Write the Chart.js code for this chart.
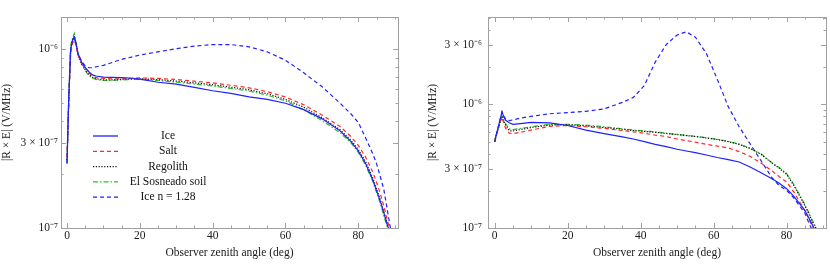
<!DOCTYPE html>
<html>
<head>
<meta charset="utf-8">
<script src="https://cdn.jsdelivr.net/npm/chart.js@4/dist/chart.umd.min.js"></script>
<style>
  html, body { margin:0; padding:0; background:#fff; }
  #wrap { position:relative; width:830px; height:273px; }
  .cv { position:absolute; top:0; }
</style>
</head>
<body>
<div id="wrap">
  <canvas id="left" class="cv" width="415" height="273" style="left:0px"></canvas>
  <canvas id="right" class="cv" width="415" height="273" style="left:415px"></canvas>
</div>
<script>
// ---------------- DATA ----------------
const seriesNames = ["Ice", "Salt", "Regolith", "El Sosneado soil", "Ice n = 1.28"];
const xTickValues = [0, 20, 40, 60, 80];
const xTitle = "Observer zenith angle (deg)";
const yTitle = "|R × E| (V/MHz)";

// Left panel
const leftAngles = [0,0.5,1,1.5,2,2.5,3,4,5,6,7,8,10,12,15,18,20,25,30,35,40,45,50,55,60,65,70,75,78,80,82,84,85,86,87,88,89,90];
const leftIce      = [2.3e-7,5.5e-7,1.0e-6,1.12e-6,1.17e-6,1.07e-6,9.5e-7,8.5e-7,7.9e-7,7.5e-7,7.2e-7,7.1e-7,7.0e-7,6.98e-7,6.95e-7,6.9e-7,6.82e-7,6.55e-7,6.4e-7,6.13e-7,5.87e-7,5.67e-7,5.42e-7,5.25e-7,5.0e-7,4.6e-7,4.1e-7,3.5e-7,3.05e-7,2.7e-7,2.3e-7,1.85e-7,1.62e-7,1.42e-7,1.22e-7,1.04e-7,8.8e-8,7.5e-8];
const leftSalt     = [2.5e-7,5.2e-7,9.5e-7,1.08e-6,1.13e-6,1.05e-6,9.3e-7,8.4e-7,7.9e-7,7.4e-7,7.1e-7,6.95e-7,6.88e-7,6.85e-7,6.85e-7,6.9e-7,6.93e-7,6.88e-7,6.79e-7,6.64e-7,6.5e-7,6.3e-7,6.1e-7,5.8e-7,5.42e-7,4.9e-7,4.3e-7,3.7e-7,3.25e-7,2.9e-7,2.5e-7,2.05e-7,1.8e-7,1.57e-7,1.33e-7,1.1e-7,9.2e-8,7.8e-8];
const leftRegolith = [2.4e-7,5.4e-7,1.0e-6,1.13e-6,1.19e-6,1.08e-6,9.4e-7,8.3e-7,7.7e-7,7.25e-7,7.0e-7,6.85e-7,6.75e-7,6.75e-7,6.8e-7,6.85e-7,6.85e-7,6.78e-7,6.65e-7,6.5e-7,6.35e-7,6.15e-7,5.95e-7,5.65e-7,5.25e-7,4.75e-7,4.15e-7,3.55e-7,3.1e-7,2.75e-7,2.35e-7,1.9e-7,1.66e-7,1.45e-7,1.23e-7,1.04e-7,8.8e-8,7.5e-8];
const leftSoil     = [2.35e-7,5.6e-7,1.05e-6,1.16e-6,1.23e-6,1.1e-6,9.5e-7,8.3e-7,7.6e-7,7.15e-7,6.9e-7,6.8e-7,6.7e-7,6.7e-7,6.75e-7,6.8e-7,6.8e-7,6.7e-7,6.55e-7,6.4e-7,6.25e-7,6.05e-7,5.85e-7,5.55e-7,5.15e-7,4.6e-7,4.0e-7,3.42e-7,3.0e-7,2.65e-7,2.25e-7,1.82e-7,1.58e-7,1.38e-7,1.17e-7,1.0e-7,8.5e-8,7.2e-8];
const leftIce128   = [2.3e-7,5.5e-7,1.0e-6,1.12e-6,1.17e-6,1.07e-6,9.5e-7,8.6e-7,8.1e-7,7.9e-7,7.9e-7,8.0e-7,8.15e-7,8.4e-7,8.8e-7,9.1e-7,9.3e-7,9.7e-7,1.01e-6,1.045e-6,1.065e-6,1.065e-6,1.035e-6,9.7e-7,8.7e-7,7.4e-7,6.2e-7,5.0e-7,4.35e-7,3.9e-7,3.2e-7,2.6e-7,2.3e-7,1.95e-7,1.65e-7,1.25e-7,9.5e-8,7.5e-8];
const leftYTicks = [1e-7, 3e-7, 1e-6];
const leftYLabels = ["10⁻⁷", "3 × 10⁻⁷", "10⁻⁶"];

// Right panel
const rightAngles = [0,0.5,1,1.5,2,2.5,3,4,5,7,10,15,20,25,30,35,38,41,44,47,50,52.5,55,58,61,64,67,70,73,76,78,80,82,84,85,86,87,88,89,90];
const rightIce      = [4.98e-7,5.8e-7,6.6e-7,7.6e-7,8.7e-7,7.9e-7,7.45e-7,7.1e-7,6.9e-7,7.0e-7,7.15e-7,7.1e-7,6.75e-7,6.2e-7,5.8e-7,5.46e-7,5.25e-7,5.0e-7,4.75e-7,4.55e-7,4.34e-7,4.2e-7,4.08e-7,3.9e-7,3.72e-7,3.58e-7,3.42e-7,3.12e-7,2.8e-7,2.5e-7,2.3e-7,2.08e-7,1.8e-7,1.52e-7,1.39e-7,1.22e-7,1.07e-7,9.3e-8,8e-8,7e-8];
const rightSalt     = [4.98e-7,5.7e-7,6.5e-7,7.2e-7,7.9e-7,7.0e-7,6.4e-7,5.85e-7,5.8e-7,5.95e-7,6.2e-7,6.65e-7,6.75e-7,6.6e-7,6.4e-7,6.15e-7,6.0e-7,5.85e-7,5.65e-7,5.5e-7,5.25e-7,5.1e-7,4.95e-7,4.75e-7,4.6e-7,4.45e-7,4.15e-7,3.8e-7,3.35e-7,2.9e-7,2.6e-7,2.36e-7,1.95e-7,1.55e-7,1.38e-7,1.2e-7,1.04e-7,9e-8,7.8e-8,7e-8];
const rightRegolith = [5.0e-7,5.7e-7,6.4e-7,7.2e-7,7.9e-7,7.3e-7,6.8e-7,6.15e-7,6.1e-7,6.25e-7,6.5e-7,6.8e-7,6.85e-7,6.7e-7,6.5e-7,6.3e-7,6.15e-7,6.05e-7,5.95e-7,5.82e-7,5.7e-7,5.6e-7,5.5e-7,5.35e-7,5.2e-7,5.0e-7,4.75e-7,4.4e-7,3.95e-7,3.35e-7,3.05e-7,2.72e-7,2.2e-7,1.72e-7,1.52e-7,1.32e-7,1.14e-7,1.0e-7,8.6e-8,7.5e-8];
const rightSoil     = [5.2e-7,5.8e-7,6.4e-7,7.2e-7,8.0e-7,7.4e-7,7.0e-7,6.35e-7,6.25e-7,6.4e-7,6.6e-7,6.9e-7,6.9e-7,6.8e-7,6.6e-7,6.35e-7,6.2e-7,6.1e-7,6.0e-7,5.85e-7,5.72e-7,5.62e-7,5.52e-7,5.38e-7,5.22e-7,5.02e-7,4.78e-7,4.42e-7,3.98e-7,3.38e-7,3.08e-7,2.76e-7,2.25e-7,1.76e-7,1.55e-7,1.35e-7,1.16e-7,1.02e-7,8.8e-8,7.7e-8];
const rightIce128   = [4.98e-7,5.8e-7,6.6e-7,7.6e-7,8.7e-7,8.0e-7,7.6e-7,7.4e-7,7.5e-7,7.75e-7,8.0e-7,8.4e-7,8.6e-7,8.8e-7,9.2e-7,1.04e-6,1.14e-6,1.42e-6,2.2e-6,3.05e-6,3.65e-6,3.87e-6,3.5e-6,2.59e-6,1.6e-6,9.6e-7,6.6e-7,4.8e-7,3.5e-7,2.55e-7,2.2e-7,2.02e-7,1.75e-7,1.45e-7,1.32e-7,1.12e-7,9.6e-8,8.3e-8,7.2e-8,6.5e-8];
const rightYTicks = [1e-7, 3e-7, 1e-6, 3e-6];
const rightYLabels = ["10⁻⁷", "3 × 10⁻⁷", "10⁻⁶", "3 × 10⁻⁶"];

// ---------------- STYLE ----------------
const FONT = "'Liberation Serif', 'Times New Roman', serif";
const styles = [
  { color: '#1f1fff', dash: [] },
  { color: '#ff2a2a', dash: [4, 3] },
  { color: '#111111', dash: [1.2, 1.6] },
  { color: '#2ebd2e', dash: [5, 2, 1.5, 2] },
  { color: '#1f1fff', dash: [4, 3] }
];

function makeDatasets(angles, lists) {
  return lists.map((vals, i) => ({
    label: seriesNames[i],
    data: angles.map((a, k) => ({ x: a, y: vals[k] })),
    borderColor: styles[i].color,
    borderDash: styles[i].dash,
    borderWidth: 1.2,
    pointRadius: 0,
    fill: false,
    tension: 0
  }));
}

function minorLogTicks(min, max) {
  const out = [];
  for (let e = -8; e <= -5; e++) {
    for (let m = 1; m <= 9; m++) {
      const v = m * Math.pow(10, e);
      if (v >= min * 0.999 && v <= max) out.push(v);
    }
  }
  return out;
}

const framePlugin = {
  id: 'frame',
  afterDraw(chart, args, opts) {
    const ctx = chart.ctx;
    const a = chart.chartArea;
    const xs = chart.scales.x, ys = chart.scales.y;
    ctx.save();
    ctx.strokeStyle = '#a0a0a0';
    ctx.lineWidth = 1;
    ctx.setLineDash([]);
    ctx.strokeRect(Math.round(a.left) + 0.5, Math.round(a.top) + 0.5, Math.round(a.right - a.left), Math.round(a.bottom - a.top));
    ctx.beginPath();
    for (let v = 0; v <= 90; v += 5) {
      const px = Math.round(xs.getPixelForValue(v)) + 0.5;
      const len = (v % 20 === 0) ? 5 : 2.5;
      ctx.moveTo(px, a.bottom); ctx.lineTo(px, a.bottom - len);
      ctx.moveTo(px, a.top); ctx.lineTo(px, a.top + len);
    }
    const majors = opts.majors;
    minorLogTicks(ys.min, ys.max).forEach(v => {
      const py = Math.round(ys.getPixelForValue(v)) + 0.5;
      const isMajor = majors.some(m => Math.abs(m - v) / v < 1e-6);
      const len = isMajor ? 5 : 2.5;
      ctx.moveTo(a.left, py); ctx.lineTo(a.left + len, py);
      ctx.moveTo(a.right, py); ctx.lineTo(a.right - len, py);
    });
    ctx.stroke();

    if (opts.legend) {
      const L = opts.legend;
      ctx.font = '11.5px ' + FONT;
      ctx.fillStyle = '#111';
      ctx.textAlign = 'center';
      ctx.textBaseline = 'middle';
      seriesNames.forEach((name, i) => {
        const y = L.y0 + i * L.dy;
        ctx.beginPath();
        ctx.strokeStyle = styles[i].color;
        ctx.setLineDash(styles[i].dash);
        ctx.lineWidth = 1.3;
        ctx.moveTo(L.x0, y); ctx.lineTo(L.x1, y);
        ctx.stroke();
        ctx.fillText(name, L.tx, y);
      });
    }
    ctx.restore();
  }
};

function makeChart(id, angles, lists, cfg) {
  return new Chart(document.getElementById(id), {
    type: 'line',
    data: { datasets: makeDatasets(angles, lists) },
    plugins: [framePlugin],
    options: {
      responsive: false,
      animation: false,
      devicePixelRatio: 1,
      layout: { padding: { left: 0, top: 17, right: cfg.padRight, bottom: 13 } },
      plugins: {
        legend: { display: false },
        tooltip: { enabled: false },
        frame: { majors: cfg.yTicks, legend: cfg.legend }
      },
      scales: {
        x: {
          type: 'linear',
          min: cfg.xmin, max: cfg.xmax,
          afterFit: s => { s.height = 32; },
          afterBuildTicks: s => { s.ticks = xTickValues.map(v => ({ value: v })); },
          grid: { display: false, drawTicks: false },
          border: { display: false },
          ticks: { color: '#1a1a1a', font: { family: FONT, size: 11.5 }, padding: 1, maxRotation: 0, autoSkip: false },
          title: { display: true, text: xTitle, color: '#1a1a1a', font: { family: FONT, size: 11.5 }, padding: { top: 3, bottom: 0 } }
        },
        y: {
          type: 'logarithmic',
          min: 1e-7, max: cfg.ymax,
          afterFit: s => { s.width = cfg.yWidth; },
          afterBuildTicks: s => { s.ticks = cfg.yTicks.map(v => ({ value: v })); },
          grid: { display: false, drawTicks: false },
          border: { display: false },
          ticks: {
            color: '#1a1a1a', font: { family: FONT, size: 11.5 }, padding: cfg.yPad, autoSkip: false,
            callback: v => { const i = cfg.yTicks.findIndex(t => Math.abs(t - v) / t < 1e-6); return i >= 0 ? cfg.yLabels[i] : ''; }
          },
          title: { display: true, text: yTitle, color: '#1a1a1a', font: { family: FONT, size: 11.5 }, padding: { top: cfg.yTitlePad, bottom: 0 } }
        }
      }
    }
  });
}

makeChart('left', leftAngles, [leftIce, leftSalt, leftRegolith, leftSoil, leftIce128], {
  xmin: -1.65, xmax: 90.9, ymax: 1.52e-6, yWidth: 61, padRight: 17, yPad: 3, yTitlePad: 0.5,
  yTicks: leftYTicks, yLabels: leftYLabels,
  legend: { x0: 93, x1: 118, tx: 168, y0: 136, dy: 15.3 }
});
makeChart('right', rightAngles, [rightIce, rightSalt, rightRegolith, rightSoil, rightIce128], {
  xmin: -1.84, xmax: 90.8, ymax: 5.1e-6, yWidth: 73, padRight: 4, yPad: 6, yTitlePad: 11.5,
  yTicks: rightYTicks, yLabels: rightYLabels,
  legend: null
});
</script>
</body>
</html>
